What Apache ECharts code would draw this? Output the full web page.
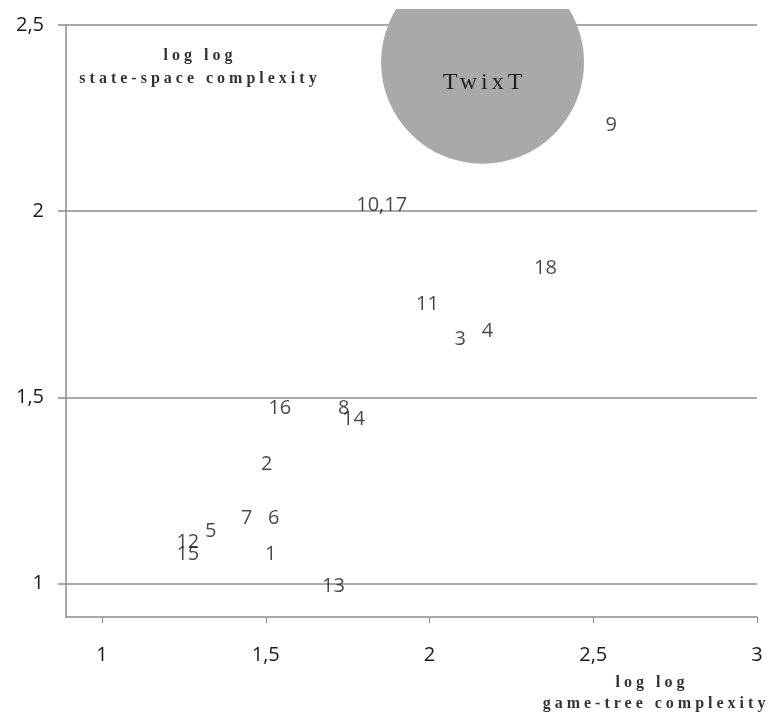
<!DOCTYPE html>
<html>
<head>
<meta charset="utf-8">
<script src="https://cdn.jsdelivr.net/npm/echarts@6/dist/echarts.min.js"></script>
<style>
  html, body { margin: 0; padding: 0; background: #fff; }
  #chart { width: 768px; height: 706px; margin-top: 9px; }
</style>
</head>
<body>
<div id="chart"></div>
<script>
// game labels and their (game-tree, state-space) log log values
const gameNames = ["9", "10,17", "18", "11", "3", "4", "16", "8", "14", "2", "7", "6", "5", "12", "15", "1", "13"];
const gameTree = [2.555, 1.854, 2.354, 1.994, 2.094, 2.177, 1.543, 1.738, 1.768, 1.503, 1.442, 1.524, 1.332, 1.262, 1.262, 1.515, 1.707];
const stateSpace = [2.231, 2.016, 1.847, 1.75, 1.656, 1.677, 1.47, 1.47, 1.441, 1.32, 1.175, 1.175, 1.14, 1.11, 1.078, 1.078, 0.992];

const twixtPoint = [2.162, 2.4];
const xTicks = [1, 1.5, 2, 2.5, 3];
const yTicks = [1, 1.5, 2, 2.5];

// the serif titles are spaced out in the original
const origFillText = CanvasRenderingContext2D.prototype.fillText;
CanvasRenderingContext2D.prototype.fillText = function (t, x, y, w) {
  this.letterSpacing = /Serif/.test(this.font) ? "4px" : "0px";
  return w === undefined ? origFillText.call(this, t, x, y) : origFillText.call(this, t, x, y, w);
};

const chart = echarts.init(document.getElementById("chart"));

const comma = (v) => String(v).replace(".", ",");
const titleFont = {
  fontFamily: "Liberation Serif",
  fontSize: 16,
  fontWeight: "bold",
  fill: "#333",
  align: "center",
  verticalAlign: "middle",
};

chart.setOption({
  animation: false,
  grid: { left: 66, right: 11, top: 16, bottom: 98 },
  xAxis: {
    type: "value",
    min: 0.89,
    max: 3,
    axisLine: { show: true, lineStyle: { color: "#8c8c8c", width: 1.5 } },
    axisTick: { show: true, length: 6, customValues: xTicks, lineStyle: { color: "#8c8c8c" } },
    axisLabel: {
      customValues: xTicks,
      formatter: comma,
      margin: 28,
      color: "#1a1a1a",
      fontFamily: "Open Sans",
      fontSize: 20,
    },
    splitLine: { show: false },
  },
  yAxis: {
    type: "value",
    min: 0.91,
    max: 2.5,
    axisLine: { show: true, lineStyle: { color: "#8c8c8c", width: 1.5 } },
    axisTick: { show: true, length: 8, customValues: yTicks, lineStyle: { color: "#8c8c8c", width: 1.5 } },
    axisLabel: {
      customValues: yTicks,
      formatter: comma,
      margin: 22,
      color: "#1a1a1a",
      fontFamily: "Open Sans",
      fontSize: 20,
    },
    splitLine: { show: true, lineStyle: { color: "#8c8c8c", width: 1.5 } },
  },
  graphic: [
    { type: "text", x: 200, y: 47, style: Object.assign({ text: "log log" }, titleFont) },
    { type: "text", x: 200, y: 70, style: Object.assign({ text: "state-space complexity" }, titleFont) },
    { type: "text", x: 652, y: 674, style: Object.assign({ text: "log log" }, titleFont) },
    { type: "text", x: 656, y: 695, style: Object.assign({ text: "game-tree complexity" }, titleFont) },
  ],
  series: [
    {
      type: "scatter",
      clip: false,
      symbolSize: 203,
      itemStyle: { color: "#a9a9a9", opacity: 1 },
      label: {
        show: true,
        position: "inside",
        offset: [2, 20],
        formatter: "TwixT",
        fontFamily: "Liberation Serif",
        fontSize: 24,
        color: "#222",
      },
      data: [twixtPoint],
      z: 1,
    },
    {
      type: "scatter",
      symbolSize: 0,
      label: {
        show: true,
        position: "inside",
        formatter: (p) => gameNames[p.dataIndex],
        fontFamily: "Open Sans",
        fontSize: 20,
        color: "#1a1a1a",
      },
      data: gameTree.map((x, i) => [x, stateSpace[i]]),
      z: 3,
    },
  ],
});
</script>
</body>
</html>
